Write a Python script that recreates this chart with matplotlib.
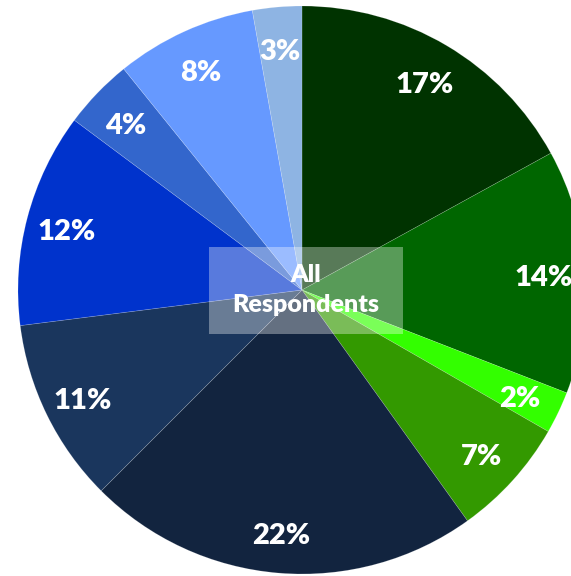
import matplotlib
matplotlib.use("Agg")
import matplotlib.pyplot as plt
from matplotlib.patches import Rectangle
import numpy as np

# Data (clockwise from 12 o'clock)
values = [17.0, 13.9, 2.4, 6.8, 22.4, 10.5, 12.2, 4.0, 8.0, 2.8]
labels = ["17%", "14%", "2%", "7%", "22%", "11%", "12%", "4%", "8%", "3%"]
colors = ["#003300", "#006600", "#33ff00", "#339900", "#12243f",
          "#1a365d", "#0033cc", "#3366cc", "#6699ff", "#8eb4e3"]
center_text = "All\nRespondents"

W, H = 571, 576
fig = plt.figure(figsize=(W / 100, H / 100), dpi=100)
ax = fig.add_axes([0, 0, 1, 1])

cx, cy, R = 302, H - 290, 284
wedges, texts = ax.pie(values, colors=colors, startangle=90, counterclock=False,
                       center=(cx, cy), radius=R,
                       wedgeprops=dict(edgecolor=(1, 1, 1, 0.2), linewidth=0.5))

# percentage labels
total = sum(values)
cum = 0
for v, lab in zip(values, labels):
    mid = 90 - (cum + v / 2) / total * 360
    cum += v
    r = 0.855 * R
    ax.text(cx + r * np.cos(np.radians(mid)) - 1, cy + r * np.sin(np.radians(mid)) - 4, lab,
            ha="center", va="center", color="white", fontsize=21,
            fontweight="heavy", family="Lato")

# center box
ax.add_patch(Rectangle((209, H - 334), 194, 87, facecolor="white", alpha=0.35,
                       edgecolor="none", zorder=5))
ax.text(306, H - 290, center_text, ha="center", va="center", color="white",
        fontsize=18, fontweight="heavy", family="Lato", linespacing=1.4, zorder=6)

ax.set_xlim(0, W)
ax.set_ylim(0, H)
ax.set_aspect("auto")
ax.axis("off")
fig.savefig("out.png", dpi=100, facecolor="white")
